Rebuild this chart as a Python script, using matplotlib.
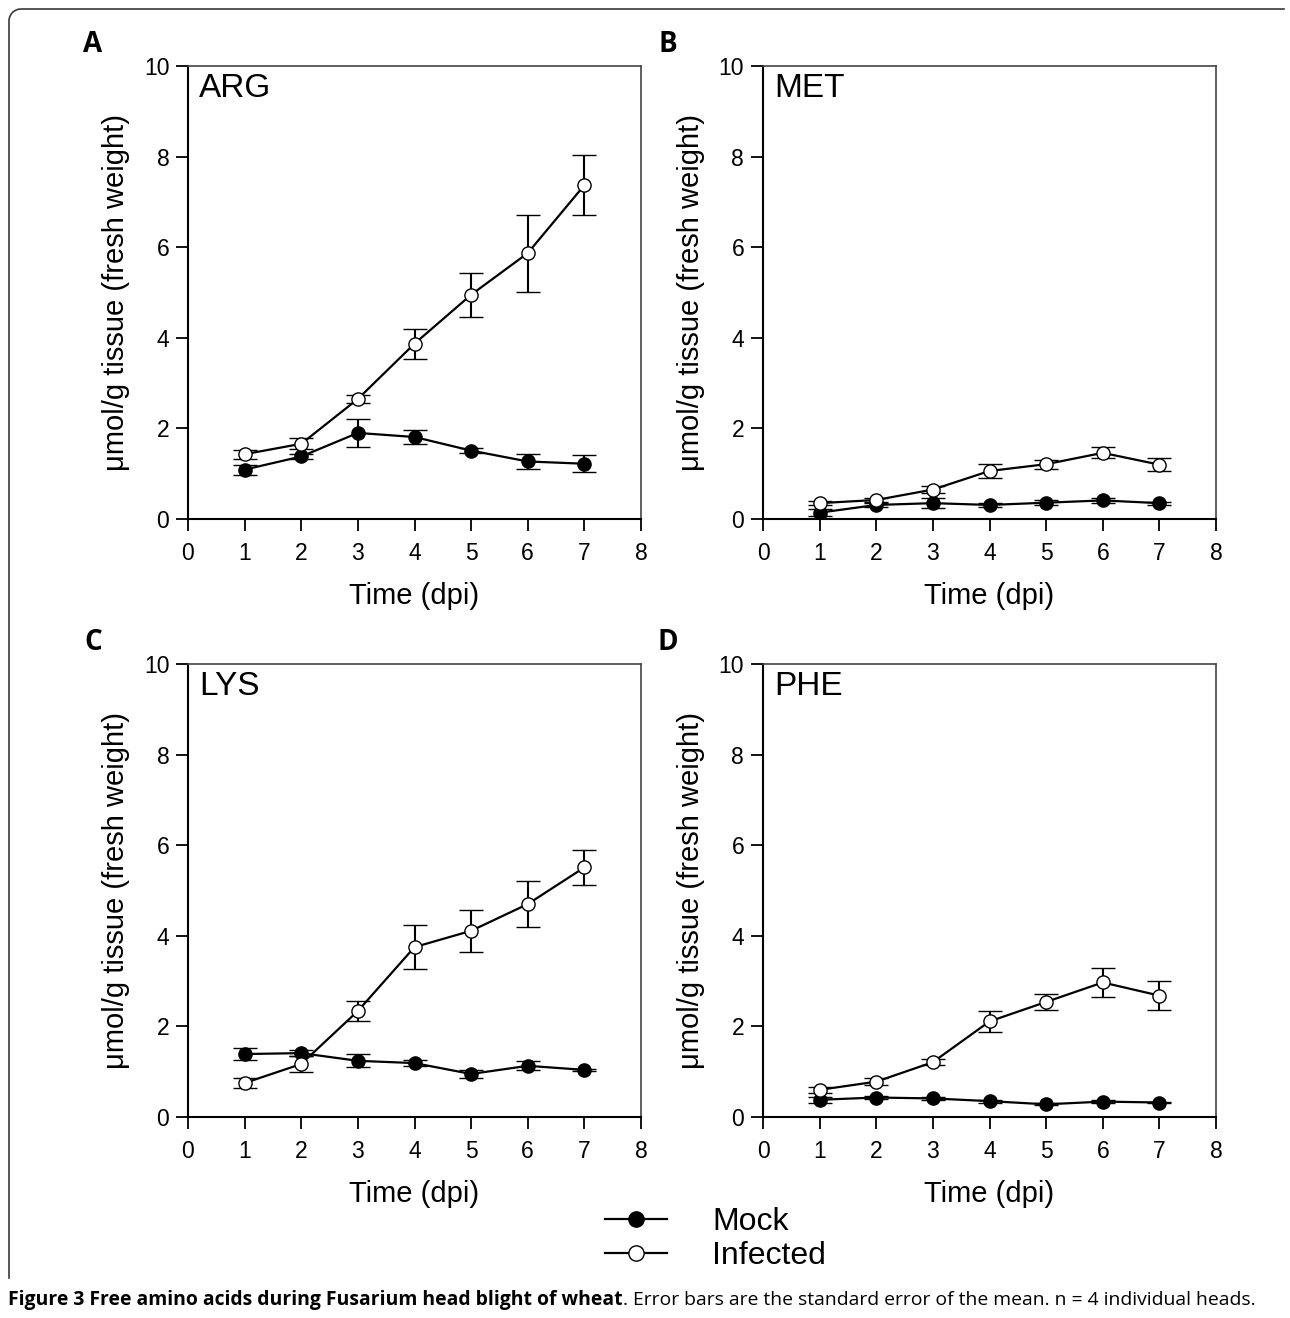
import numpy as np
import matplotlib
matplotlib.use("Agg")
import matplotlib.pyplot as plt
from matplotlib.lines import Line2D

plt.rcParams['font.family'] = ['Liberation Sans', 'DejaVu Sans']

# ---------------- data ----------------
days = [1, 2, 3, 4, 5, 6, 7]
panel_letters = ['A', 'B', 'C', 'D']
amino_acids = ['ARG', 'MET', 'LYS', 'PHE']

arg_mock = [1.09, 1.38, 1.90, 1.81, 1.51, 1.27, 1.22]
arg_mock_se = [0.11, 0.06, 0.30, 0.15, 0.06, 0.17, 0.19]
arg_inf = [1.43, 1.66, 2.65, 3.87, 4.95, 5.87, 7.37]
arg_inf_se = [0.10, 0.12, 0.08, 0.33, 0.49, 0.85, 0.67]

met_mock = [0.14, 0.31, 0.35, 0.31, 0.36, 0.41, 0.35]
met_mock_se = [0.08, 0.04, 0.11, 0.04, 0.05, 0.06, 0.03]
met_inf = [0.35, 0.42, 0.65, 1.06, 1.21, 1.46, 1.20]
met_inf_se = [0.05, 0.04, 0.08, 0.15, 0.10, 0.12, 0.15]

lys_mock = [1.39, 1.41, 1.24, 1.19, 0.95, 1.13, 1.04]
lys_mock_se = [0.14, 0.07, 0.14, 0.06, 0.09, 0.10, 0.03]
lys_inf = [0.75, 1.17, 2.34, 3.75, 4.11, 4.70, 5.51]
lys_inf_se = [0.10, 0.18, 0.21, 0.48, 0.46, 0.50, 0.38]

phe_mock = [0.38, 0.43, 0.41, 0.35, 0.28, 0.34, 0.32]
phe_mock_se = [0.06, 0.03, 0.03, 0.03, 0.02, 0.03, 0.02]
phe_inf = [0.60, 0.78, 1.21, 2.11, 2.54, 2.97, 2.68]
phe_inf_se = [0.06, 0.08, 0.07, 0.24, 0.17, 0.31, 0.32]

x_ticks = [0, 1, 2, 3, 4, 5, 6, 7, 8]
y_ticks = [0, 2, 4, 6, 8, 10]
series_labels = ['Mock', 'Infected']
x_label = 'Time (dpi)'
y_label = 'μmol/g tissue (fresh weight)'
caption_bold = 'Figure 3 Free amino acids during Fusarium head blight of wheat'
caption_rest = '. Error bars are the standard error of the mean. n = 4 individual heads.'

mock_data = [(arg_mock, arg_mock_se), (met_mock, met_mock_se),
             (lys_mock, lys_mock_se), (phe_mock, phe_mock_se)]
inf_data = [(arg_inf, arg_inf_se), (met_inf, met_inf_se),
            (lys_inf, lys_inf_se), (phe_inf, phe_inf_se)]

# ---------------- layout ----------------
W, H = 1290, 1318
fig = plt.figure(figsize=(W / 100, H / 100), dpi=100)

def fx(px):
    return px / W

def fy(py):
    return 1 - py / H

ax_w, ax_h = 453, 453
lefts = [188, 763, 188, 763]
bottoms = [519, 519, 1117, 1117]

mk = 9.5
for i in range(4):
    ax = fig.add_axes([fx(lefts[i]), fy(bottoms[i]), ax_w / W, ax_h / H])
    my, me = mock_data[i]
    iy, ie = inf_data[i]
    ax.errorbar(days, my, yerr=me, color='black', lw=1.6, marker='o', ms=mk,
                mfc='black', mec='black', mew=1.0, capsize=8.5, capthick=1.5,
                elinewidth=1.5, zorder=3)
    ax.errorbar(days, iy, yerr=ie, color='black', lw=1.6, marker='o', ms=mk,
                mfc='white', mec='black', mew=1.0, capsize=8.5, capthick=1.5,
                elinewidth=1.5, zorder=4)
    ax.set_xlim(0, 8)
    ax.set_ylim(0, 10)
    ax.set_xticks(x_ticks)
    ax.set_yticks(y_ticks)
    ax.tick_params(direction='out', length=8.5, width=1.3, labelsize=16.5,
                   pad=5, colors='black')
    ax.tick_params(axis='x', pad=8)
    for s in ['left', 'bottom']:
        ax.spines[s].set_linewidth(1.5)
        ax.spines[s].set_color('black')
    for s in ['top', 'right']:
        ax.spines[s].set_linewidth(1.2)
        ax.spines[s].set_color('#444444')
    ax.set_xlabel(x_label, fontsize=21, labelpad=12)
    ax.set_ylabel(y_label, fontsize=21, labelpad=10)
    ax.text(0.025, 0.985, amino_acids[i], transform=ax.transAxes,
            fontsize=24, ha='left', va='top')
    fig.text(fx(lefts[i] - 95), fy(bottoms[i] - ax_h - 22), panel_letters[i],
             fontsize=20, fontweight='bold', ha='center', va='center',
             family=['Open Sans', 'DejaVu Sans'])

# legend
h_mock = Line2D([], [], color='black', lw=1.6, marker='o', ms=11,
                mfc='black', mec='black')
h_inf = Line2D([], [], color='black', lw=1.6, marker='o', ms=11,
               mfc='white', mec='black')
fig.legend([h_mock, h_inf], series_labels, loc='upper left',
           bbox_to_anchor=(fx(605), fy(1207)), frameon=False,
           fontsize=23, handlelength=1.95, handletextpad=1.4,
           labelspacing=0.12, borderpad=0, borderaxespad=0)

# frame (top and left border with rounded corner)
r = 12
theta = np.linspace(np.pi, np.pi / 2, 20)
arc_x = 9 + r + r * np.cos(theta)
arc_y = 9 + r - r * np.sin(theta)
bx = np.concatenate([[9], arc_x, [1284]])
by = np.concatenate([[1278], arc_y, [9]])
fig.add_artist(Line2D(fx(bx), fy(by), color='#3a3a3a', lw=1.2))

# caption
fig.canvas.draw()
cap_family = ['Open Sans', 'DejaVu Sans']
fs = 12.5
t1 = fig.text(fx(8), fy(1300), caption_bold, fontsize=fs, fontweight='bold',
              family=cap_family, va='center', ha='left')
renderer = fig.canvas.get_renderer()
bb1 = t1.get_window_extent(renderer)
t2 = fig.text(bb1.x1 / W, fy(1300), caption_rest, fontsize=fs,
              family=cap_family, va='center', ha='left')
bb2 = t2.get_window_extent(renderer)
total = bb2.x1 - bb1.x0
scale = 1254 / total
fs2 = fs * scale
t1.set_fontsize(fs2)
bb1 = t1.get_window_extent(renderer)
t2.set_fontsize(fs2)
t2.set_x(bb1.x1 / W)

fig.savefig('out.png', dpi=100)
